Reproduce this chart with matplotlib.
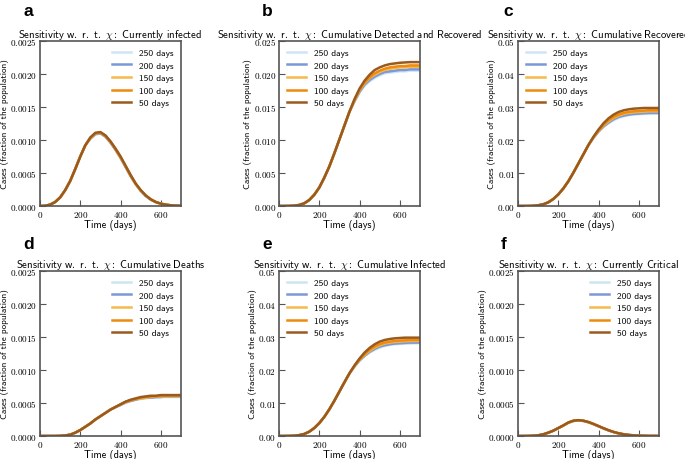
import matplotlib
matplotlib.use('Agg')
import matplotlib.pyplot as plt
from matplotlib.ticker import FuncFormatter

plt.rcParams['mathtext.fontset'] = 'cm'

days = list(range(0, 701, 25))
labels = ['250 days', '200 days', '150 days', '100 days', '50 days']
colors = ['#cde6f2', '#7c98d6', '#f6b94c', '#f08a0c', '#9a5a1e']

# a: currently infected (first 10 points shared, rest per series)
a_rise = [0, 0.000003, 0.00002, 0.00006, 0.00013, 0.00024, 0.00038, 0.00056, 0.00075, 0.00092]
a_tail = {
    '50 days': [0.00104, 0.00111, 0.00112, 0.00107, 0.00098, 0.00087, 0.00075, 0.00061, 0.00047, 0.00034, 0.00024, 0.00016, 0.0001, 0.00006, 0.000035, 0.00002, 0.00001, 0.000005, 0.000003],
    '100 days': [0.00103, 0.0011, 0.00111, 0.00106, 0.00097, 0.00086, 0.00074, 0.0006, 0.00046, 0.00034, 0.00024, 0.00016, 0.0001, 0.00006, 0.000035, 0.00002, 0.00001, 0.000005, 0.000003],
    '150 days': [0.00103, 0.0011, 0.00111, 0.00106, 0.00097, 0.00086, 0.00073, 0.0006, 0.00046, 0.00033, 0.00023, 0.00016, 0.0001, 0.00006, 0.000035, 0.00002, 0.00001, 0.000005, 0.000003],
    '200 days': [0.00102, 0.00109, 0.0011, 0.00105, 0.00096, 0.00085, 0.00073, 0.00059, 0.00045, 0.00033, 0.00023, 0.00015, 0.0001, 0.00006, 0.000035, 0.00002, 0.00001, 0.000005, 0.000003],
    '250 days': [0.00102, 0.00108, 0.0011, 0.00105, 0.00096, 0.00085, 0.00072, 0.00059, 0.00045, 0.00033, 0.00023, 0.00015, 0.00009, 0.000055, 0.00003, 0.000018, 0.00001, 0.000005, 0.000003],
}

# b: cumulative detected and recovered (first 15 points shared)
b_rise = [0, 0, 0.00001, 0.00005, 0.00015, 0.0004, 0.0009, 0.0017, 0.0028, 0.0043, 0.006, 0.008, 0.0101, 0.0122, 0.0143]
b_tail = {
    '50 days': [0.0162, 0.0178, 0.019, 0.0199, 0.0206, 0.021, 0.0213, 0.0215, 0.0216, 0.0217, 0.02175, 0.0218, 0.0218, 0.0218],
    '100 days': [0.0161, 0.0176, 0.0187, 0.0195, 0.0201, 0.0205, 0.0208, 0.021, 0.0211, 0.0212, 0.0212, 0.0213, 0.0213, 0.0213],
    '150 days': [0.016, 0.0175, 0.0186, 0.0194, 0.0199, 0.0203, 0.0206, 0.0208, 0.0209, 0.021, 0.021, 0.0211, 0.0211, 0.0211],
    '200 days': [0.0159, 0.0173, 0.0184, 0.0191, 0.0196, 0.02, 0.0203, 0.0204, 0.0205, 0.0206, 0.0206, 0.0207, 0.0207, 0.0207],
    '250 days': [0.0158, 0.0172, 0.0182, 0.0189, 0.0194, 0.0198, 0.0201, 0.0202, 0.0203, 0.0204, 0.0204, 0.0205, 0.0205, 0.0205],
}

# c: cumulative recovered
c_rise = [0, 0, 0.00001, 0.00006, 0.0002, 0.0005, 0.0011, 0.0021, 0.0035, 0.0053, 0.0075, 0.0101, 0.0129, 0.0157, 0.0185]
c_tail = {
    '50 days': [0.021, 0.0232, 0.0251, 0.0266, 0.0277, 0.0285, 0.029, 0.0293, 0.0295, 0.0296, 0.0297, 0.0297, 0.0297, 0.0297],
    '100 days': [0.0209, 0.0229, 0.0246, 0.026, 0.027, 0.0277, 0.0282, 0.0285, 0.0287, 0.0288, 0.0289, 0.029, 0.029, 0.029],
    '150 days': [0.0208, 0.0228, 0.0244, 0.0257, 0.0267, 0.0274, 0.0279, 0.0282, 0.0284, 0.0285, 0.0286, 0.0287, 0.0287, 0.0287],
    '200 days': [0.0207, 0.0226, 0.0241, 0.0253, 0.0263, 0.027, 0.0274, 0.0277, 0.0279, 0.028, 0.0281, 0.0282, 0.0282, 0.0282],
    '250 days': [0.0206, 0.0225, 0.024, 0.0251, 0.026, 0.0267, 0.0272, 0.0275, 0.0277, 0.0278, 0.0279, 0.0279, 0.028, 0.028],
}

# d: cumulative deaths
d_rise = [0, 0, 0, 0, 0.000002, 0.000008, 0.00002, 0.00005, 0.00009, 0.00014, 0.00019, 0.00025, 0.0003, 0.00035, 0.0004]
d_tail = {
    '50 days': [0.00044, 0.00048, 0.00052, 0.00055, 0.00057, 0.00059, 0.0006, 0.00061, 0.00061, 0.00062, 0.00062, 0.00062, 0.00062, 0.00062],
    '100 days': [0.00044, 0.00048, 0.00052, 0.00054, 0.00056, 0.00058, 0.00059, 0.0006, 0.0006, 0.00061, 0.00061, 0.00061, 0.00061, 0.00061],
    '150 days': [0.00044, 0.00048, 0.00051, 0.00054, 0.00056, 0.00057, 0.00058, 0.00059, 0.0006, 0.0006, 0.0006, 0.000605, 0.000605, 0.000605],
    '200 days': [0.00044, 0.00047, 0.00051, 0.00053, 0.00055, 0.00057, 0.00058, 0.00058, 0.00059, 0.00059, 0.0006, 0.0006, 0.0006, 0.0006],
    '250 days': [0.00043, 0.00047, 0.0005, 0.00053, 0.00055, 0.00056, 0.00057, 0.00058, 0.00058, 0.00059, 0.00059, 0.00059, 0.00059, 0.00059],
}

# e: cumulative infected
e_rise = [0, 0, 0.00002, 0.00008, 0.00025, 0.0006, 0.0013, 0.0024, 0.0039, 0.0058, 0.0081, 0.0107, 0.0135, 0.0163, 0.019]
e_tail = {
    '50 days': [0.0214, 0.0235, 0.0253, 0.0267, 0.0278, 0.0286, 0.0291, 0.0294, 0.0296, 0.0297, 0.0298, 0.0298, 0.0298, 0.0298],
    '100 days': [0.0213, 0.0232, 0.0248, 0.0261, 0.0271, 0.0278, 0.0283, 0.0286, 0.0288, 0.0289, 0.029, 0.0291, 0.0291, 0.0291],
    '150 days': [0.0212, 0.0231, 0.0246, 0.0258, 0.0268, 0.0275, 0.028, 0.0283, 0.0285, 0.0286, 0.0287, 0.0288, 0.0288, 0.0288],
    '200 days': [0.0211, 0.0229, 0.0243, 0.0255, 0.0264, 0.0271, 0.0275, 0.0278, 0.028, 0.0281, 0.0282, 0.0283, 0.0283, 0.0283],
    '250 days': [0.021, 0.0228, 0.0242, 0.0253, 0.0261, 0.0268, 0.0273, 0.0276, 0.0278, 0.0279, 0.028, 0.028, 0.0281, 0.0281],
}

# f: currently critical
f_rise = [0, 0, 0.000001, 0.000004, 0.00001, 0.000025, 0.00005, 0.00008, 0.00012, 0.00016]
f_tail = {
    '50 days': [0.000205, 0.000232, 0.00024, 0.000232, 0.000212, 0.000183, 0.00015, 0.000117, 0.000087, 0.000061, 0.000041, 0.000026, 0.000016, 0.000009, 0.000005, 0.000003, 0.000001, 0.000001, 0],
    '100 days': [0.000203, 0.00023, 0.000238, 0.00023, 0.00021, 0.000181, 0.000149, 0.000116, 0.000086, 0.00006, 0.00004, 0.000026, 0.000016, 0.000009, 0.000005, 0.000003, 0.000001, 0.000001, 0],
    '150 days': [0.000202, 0.000229, 0.000237, 0.000229, 0.000209, 0.00018, 0.000148, 0.000115, 0.000085, 0.00006, 0.00004, 0.000025, 0.000015, 0.000009, 0.000005, 0.000003, 0.000001, 0.000001, 0],
    '200 days': [0.000201, 0.000228, 0.000236, 0.000228, 0.000208, 0.000179, 0.000147, 0.000115, 0.000085, 0.000059, 0.00004, 0.000025, 0.000015, 0.000009, 0.000005, 0.000003, 0.000001, 0.000001, 0],
    '250 days': [0.0002, 0.000227, 0.000235, 0.000227, 0.000207, 0.000179, 0.000147, 0.000114, 0.000084, 0.000059, 0.000039, 0.000025, 0.000015, 0.000009, 0.000005, 0.000003, 0.000001, 0.000001, 0],
}

panels = [
    ('a', 'Currently infected', a_rise, a_tail, 0.0025, 4, 'upper right'),
    ('b', 'Cumulative Detected and Recovered', b_rise, b_tail, 0.025, 3, 'upper left'),
    ('c', 'Cumulative Recovered', c_rise, c_tail, 0.05, 2, 'upper left'),
    ('d', 'Cumulative Deaths', d_rise, d_tail, 0.0025, 4, 'upper right'),
    ('e', 'Cumulative Infected', e_rise, e_tail, 0.05, 2, 'upper left'),
    ('f', 'Currently Critical', f_rise, f_tail, 0.0025, 4, 'upper right'),
]

W, H = 685, 460
fig = plt.figure(figsize=(6.85, 4.6), dpi=100)
lefts = [40, 279, 518]
bottoms = [207, 437]
letter_pos = [(23, 16), (262, 16), (503, 16), (23, 249), (262, 249), (501, 249)]
spine_col = '#555555'
sans = 'cmss10'

for i, (letter, name, rise, tail, ymax, dec, loc) in enumerate(panels):
    col, row = i % 3, i // 3
    ax = fig.add_axes([lefts[col] / W, (H - bottoms[row]) / H, 141 / W, 165 / H])
    for lab, c in zip(labels, colors):
        ax.plot(days, rise + tail[lab], color=c, lw=1.8, label=lab)
    ax.set_xlim(0, 700)
    ax.set_ylim(0, ymax)
    ax.set_xticks([0, 200, 400, 600])
    ax.set_yticks([ymax * k / 5 for k in range(6)])
    ax.xaxis.set_major_formatter(FuncFormatter(lambda v, p: r'$%d$' % v))
    ax.yaxis.set_major_formatter(FuncFormatter(lambda v, p, d=dec: r'$%.*f$' % (d, v)))
    ax.tick_params(direction='in', length=4, width=0.8, color=spine_col, labelsize=6.6, pad=2)
    for s in ax.spines.values():
        s.set_color(spine_col)
        s.set_linewidth(1.2)
    title = r'$\mathsf{Sensitivity\ w.\ r.\ t.\ }\chi\mathsf{:\ ' + name.replace(' ', '\\ ') + '}$'
    ax.set_title(title, fontsize=7.7, pad=3)
    ax.set_xlabel('Time (days)', fontsize=7.4, family=sans, labelpad=0)
    ax.set_ylabel('Cases (fraction of the population)', fontsize=6.6, family=sans, labelpad=1)
    ax.legend(loc=loc, frameon=False, prop={'family': sans, 'size': 6.8}, handlelength=2.1,
              labelspacing=0.42, borderaxespad=0.4, handletextpad=0.8)
    lx, ly = letter_pos[i]
    fig.text(lx / W, 1 - ly / H, letter, fontsize=12.5, fontweight='bold', family='Liberation Sans')

fig.savefig('out.png', dpi=100)
